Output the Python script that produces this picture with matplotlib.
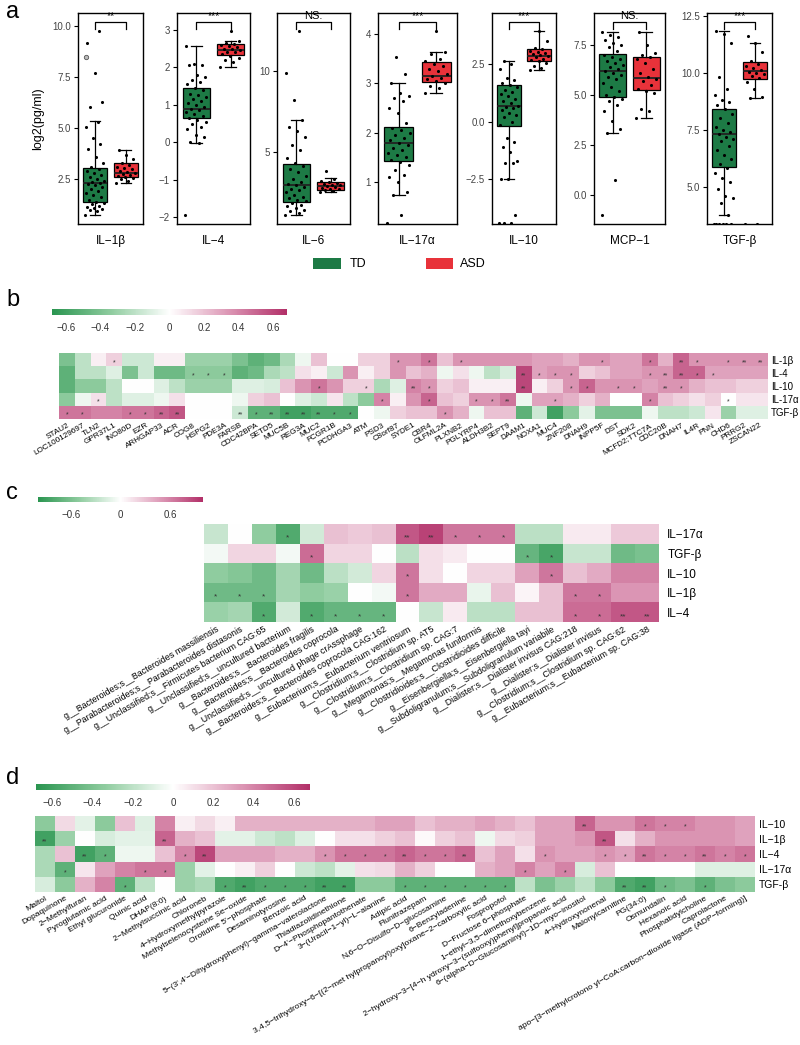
import numpy as np
import matplotlib
matplotlib.use('Agg')
import matplotlib.pyplot as plt
from matplotlib.colors import LinearSegmentedColormap, Normalize
from matplotlib.cm import ScalarMappable
from matplotlib.patches import Rectangle

plt.rcParams['font.family'] = ['Liberation Sans', 'DejaVu Sans']

W, H = 800, 1045

# ---------------- panel a data ----------------
cyto = ['IL\u22121β', 'IL\u22124', 'IL\u22126', 'IL\u221217α', 'IL\u221210', 'MCP\u22121', 'TGF-β']
sig = ['**', '***', 'NS.', '***', '***', 'NS.', '***']
ylims = [(0.3, 10.65), (-2.18, 3.45), (0.5, 13.6), (0.15, 4.43), (-4.46, 4.74), (-1.45, 9.1), (3.36, 12.62)]
yticks = [[2.5, 5.0, 7.5, 10.0], [-2, -1, 0, 1, 2, 3], [5, 10], [1, 2, 3, 4],
          [-2.5, 0.0, 2.5], [0.0, 2.5, 5.0, 7.5], [5.0, 7.5, 10.0, 12.5]]
ytick_fmt = ['{:.1f}', '{:.0f}', '{:.0f}', '{:.0f}', '{:.1f}', '{:.1f}', '{:.1f}']

# box stats: (whislo, q1, med, q3, whishi)
td_box = [(0.74, 1.39, 2.3, 3.04, 5.36), (-0.03, 0.64, 0.9, 1.44, 2.57), (1.07, 1.86, 2.93, 4.24, 6.97),
          (0.73, 1.42, 1.8, 2.12, 3.0), (-2.5, -0.17, 0.68, 1.6, 2.64), (3.08, 4.92, 6.2, 7.03, 8.13),
          (3.76, 5.84, 7.32, 8.39, 11.83)]
asd_box = [(2.3, 2.6, 2.8, 3.28, 3.95), (2.02, 2.33, 2.45, 2.62, 2.7), (2.5, 2.62, 2.86, 3.1, 3.35),
           (2.8, 3.04, 3.15, 3.44, 3.63), (2.25, 2.64, 2.86, 3.15, 3.95), (3.85, 5.25, 5.83, 6.88, 8.13),
           (8.88, 9.72, 10.09, 10.48, 11.3)]

td_pts = [
    [0.75, 0.95, 1.0, 1.05, 1.1, 1.15, 1.2, 1.3, 1.35, 1.4, 1.5, 1.6, 1.7, 1.8, 1.9, 2.0, 2.1, 2.2, 2.25, 2.3,
     2.35, 2.4, 2.5, 2.6, 2.7, 2.8, 2.9, 3.0, 3.1, 3.3, 3.6, 4.0, 4.2, 4.5, 5.05, 5.3, 6.05, 6.3, 7.7, 9.2, 9.75],
    [-1.95, -0.03, 0.0, 0.15, 0.2, 0.35, 0.4, 0.5, 0.55, 0.6, 0.65, 0.7, 0.75, 0.8, 0.85, 0.9, 0.95, 1.0,
     1.05, 1.1, 1.15, 1.2, 1.25, 1.3, 1.4, 1.45, 1.55, 1.6, 1.65, 1.75, 1.8, 2.05, 2.05, 2.1, 2.57],
    [1.07, 1.2, 1.3, 1.4, 1.5, 1.6, 1.7, 1.8, 1.9, 2.0, 2.1, 2.2, 2.3, 2.5, 2.6, 2.7, 2.8, 2.9, 3.0, 3.1,
     3.3, 3.5, 3.7, 3.9, 4.1, 4.3, 4.6, 5.1, 5.4, 5.9, 6.3, 6.5, 6.97, 8.2, 9.86, 12.5],
    [0.18, 0.33, 0.73, 0.8, 1.0, 1.1, 1.15, 1.25, 1.35, 1.4, 1.45, 1.5, 1.55, 1.6, 1.65, 1.7, 1.75, 1.8,
     1.85, 1.9, 1.95, 2.0, 2.05, 2.1, 2.2, 2.4, 2.5, 2.65, 2.7, 2.75, 2.8, 3.0, 3.2, 3.54],
    [-4.4, -4.4, -4.4, -4.07, -2.5, -2.5, -1.8, -1.8, -1.7, -1.3, -1.1, -0.9, -0.7, -0.15, 0.0, 0.2, 0.3,
     0.4, 0.5, 0.6, 0.65, 0.7, 0.8, 0.9, 1.0, 1.1, 1.2, 1.3, 1.4, 1.5, 1.6, 1.7, 1.8, 1.9, 2.3, 2.5, 2.64],
    [-1.0, 0.75, 3.08, 3.3, 3.7, 4.2, 4.5, 4.7, 4.8, 4.9, 5.0, 5.2, 5.4, 5.6, 5.8, 5.9, 6.0, 6.1, 6.2, 6.3,
     6.4, 6.5, 6.6, 6.7, 6.8, 6.9, 7.0, 7.2, 7.4, 7.5, 7.6, 7.75, 7.9, 8.0, 8.13],
    [3.38, 3.38, 3.38, 3.38, 3.38, 3.38, 3.76, 4.3, 4.5, 4.6, 4.9, 5.2, 5.4, 5.6, 5.8, 6.0, 6.2, 6.4, 6.6,
     6.8, 7.0, 7.1, 7.2, 7.3, 7.4, 7.5, 7.6, 7.8, 8.0, 8.2, 8.4, 8.6, 8.7, 8.8, 9.0, 9.3, 9.8, 11.3, 11.7, 11.83],
]
asd_pts = [
    [2.3, 2.4, 2.5, 2.55, 2.6, 2.65, 2.7, 2.75, 2.8, 2.85, 2.9, 3.0, 3.05, 3.1, 3.2, 3.3, 3.5, 3.7, 3.95],
    [2.02, 2.15, 2.2, 2.25, 2.3, 2.35, 2.4, 2.42, 2.45, 2.48, 2.5, 2.55, 2.58, 2.6, 2.62, 2.65, 2.7, 2.97],
    [2.5, 2.55, 2.6, 2.65, 2.7, 2.75, 2.8, 2.85, 2.9, 2.95, 3.0, 3.05, 3.1, 3.2, 3.3, 3.77],
    [2.8, 2.9, 2.95, 3.0, 3.05, 3.1, 3.12, 3.15, 3.2, 3.25, 3.3, 3.35, 3.4, 3.45, 3.5, 3.6, 3.63, 4.07],
    [2.25, 2.35, 2.45, 2.55, 2.65, 2.7, 2.75, 2.8, 2.85, 2.9, 2.95, 3.0, 3.05, 3.1, 3.15, 3.2, 3.5, 3.95],
    [3.85, 4.2, 4.3, 5.1, 5.2, 5.3, 5.5, 5.7, 5.8, 5.9, 6.1, 6.3, 6.6, 6.8, 6.9, 7.0, 7.1, 7.5, 8.13],
    [3.38, 3.38, 8.88, 8.95, 9.3, 9.6, 9.75, 9.85, 9.95, 10.0, 10.05, 10.1, 10.2, 10.3, 10.4, 10.5, 10.9, 11.3, 11.6],
]
il1b_outlier = 8.48

# ---------------- heatmap data ----------------
hm_rows_b = ['IL-1β', 'IL-4', 'IL-10', 'IL-17α', 'TGF-β']
genes = ['STAU2', 'LOC100129697', 'TLN2', 'GPR37L1', 'INO80D', 'EZR', 'ARHGAP33', 'ACR', 'COG8', 'HSPG2',
         'PDE3A', 'FARSB', 'CDC42BPA', 'SETD5', 'MUC5B', 'REG3A', 'MUC2', 'FCGR1B', 'PCDHGA3', 'ATM', 'PSD3',
         'C8orf87', 'SYDE1', 'CBR4', 'OLFML2A', 'PLXNB2', 'PGLYRP4', 'ALDH3B2', 'SEPT9', 'DAAM1', 'NOXA1',
         'MUC4', 'ZNF208', 'DNAH9', 'INPP5F', 'DST', 'SDK2', 'MCFD2;TTC7A', 'CDC20B', 'DNAH7', 'IL4R', 'PNN',
         'CHD6', 'PRRG2', 'ZSCAN22']
b_il1b = [-0.4, -0.2, 0.05, 0.15, -0.15, -0.15, 0.05, 0.05, -0.3, -0.3, -0.3, -0.4, -0.5, -0.45, -0.25, -0.05,
          0.2, 0, 0, 0.15, 0.15, 0.35, 0.35, 0.45, 0.2, 0.35, 0.35, 0.35, 0.35, 0.35, 0.3, 0.3, 0.25, 0.35, 0.35,
          0.3, 0.3, 0.45, 0.25, 0.5, 0.35, 0.35, 0.35, 0.35, 0.35]
b_il4 = [-0.5, -0.2, -0.2, -0.1, -0.4, -0.15, -0.45, -0.45, -0.35, -0.35, -0.35, -0.5, -0.45, -0.25, -0.2, 0.1,
         0.05, -0.15, 0.35, 0.05, 0.15, 0.35, 0.2, 0.25, -0.05, 0.1, -0.05, -0.2, -0.12, 0.6, 0.3, 0.35, 0.35,
         0.15, 0.2, 0.3, 0.3, 0.35, 0.35, 0.5, 0.5, 0.3, 0.3, 0.3, 0.3]
b_il10 = [-0.5, -0.35, -0.35, -0.2, 0, 0, -0.1, -0.2, -0.3, -0.3, -0.3, -0.1, -0.1, -0.12, 0.2, 0.35, 0.45, 0.35,
          0.15, 0.15, -0.25, -0.1, 0.4, 0.35, 0.15, 0.2, 0.05, 0.05, 0.05, 0.6, 0.05, 0.15, 0.35, 0.5, 0.35,
          0.35, 0.35, 0.3, 0.35, 0.35, 0.25, 0.2, 0.2, 0.15, 0.15]
b_il17 = [-0.35, -0.05, 0.1, -0.2, -0.1, -0.1, -0.05, 0.1, 0, 0, 0, -0.05, 0.15, 0.2, 0, -0.1, -0.15, 0.08, -0.2,
          -0.35, 0.4, 0.05, 0.35, 0.5, 0.2, 0.15, 0.35, 0.35, 0.45, -0.05, 0.3, 0.3, 0.25, 0.15, 0.25, 0, 0, 0.4,
          0.2, 0.15, 0.1, 0.15, 0, 0.08, 0.08]
b_tgfb = [0.45, 0.45, 0.4, 0.4, 0.45, 0.45, 0.5, 0.55, 0, 0, 0, -0.15, -0.5, -0.5, -0.6, -0.6, -0.55, -0.55, -0.55,
          0, -0.05, 0.15, 0.2, 0.2, 0.35, 0.25, -0.05, 0.2, 0.2, -0.5, -0.15, -0.6, -0.35, -0.08, -0.4, -0.4,
          -0.4, -0.05, -0.2, -0.2, -0.15, 0.08, -0.3, -0.1, -0.1]
b_stars = [
    [(3, '*'), (21, '*'), (23, '*'), (25, '*'), (34, '*'), (37, '*'), (39, '**'), (40, '*'), (42, '*'), (43, '**'), (44, '**')],
    [(8, '*'), (9, '*'), (10, '*'), (29, '**'), (30, '*'), (31, '*'), (32, '*'), (37, '*'), (38, '**'), (39, '**'), (40, '*'), (41, '*')],
    [(16, '*'), (19, '*'), (22, '**'), (23, '*'), (29, '**'), (32, '*'), (33, '*'), (35, '*'), (36, '*'), (38, '**'), (39, '*')],
    [(2, '*'), (20, '*'), (23, '*'), (26, '*'), (27, '*'), (28, '**'), (31, '*'), (37, '*'), (42, '*')],
    [(0, '*'), (1, '*'), (4, '*'), (5, '*'), (6, '**'), (7, '**'), (11, '**'), (12, '*'), (13, '**'), (14, '**'),
     (15, '**'), (16, '**'), (17, '*'), (18, '*'), (24, '*')],
]

hm_rows_c = ['IL\u221217α', 'TGF-β', 'IL\u221210', 'IL\u22121β', 'IL\u22124']
microbes = ['g__Bacteroides;s__Bacteroides massiliensis', 'g__Parabacteroides;s__Parabacteroides distasonis',
            'g__Unclassified;s__Firmicutes bacterium CAG:65', 'g__Unclassified;s__uncultured bacterium',
            'g__Bacteroides;s__Bacteroides fragilis', 'g__Bacteroides;s__Bacteroides coprocola',
            'g__Unclassified;s__uncultured phage crAssphage', 'g__Bacteroides;s__Bacteroides coprocola CAG:162',
            'g__Eubacterium;s__Eubacterium ventriosum', 'g__Clostridium;s__Clostridium sp. AT5',
            'g__Clostridium;s__Clostridium sp. CAG:7', 'g__Megamonas;s__Megamonas funiformis',
            'g__Clostridioides;s__Clostridioides difficile', 'g__Eisenbergiella;s__Eisenbergiella tayi',
            'g__Subdoligranulum;s__Subdoligranulum variabile', 'g__Dialister;s__Dialister invisus CAG:218',
            'g__Dialister;s__Dialister invisus', 'g__Clostridium;s__Clostridium sp. CAG:62',
            'g__Eubacterium;s__Eubacterium sp. CAG:38']
c_il17 = [-0.25, 0, -0.5, -0.8, -0.2, 0.3, 0.25, 0.3, 0.8, 0.9, 0.65, 0.65, 0.65, -0.3, -0.3, 0.1, 0.1, 0.25, 0.25]
c_tgfb = [-0.05, 0.2, 0.2, -0.05, 0.7, 0.2, 0.2, 0, -0.3, 0.15, 0.1, 0, 0, -0.7, -0.85, -0.25, -0.25, -0.65, -0.6]
c_il10 = [-0.5, -0.55, -0.65, -0.4, -0.65, -0.3, -0.2, 0.2, 0.65, 0.15, 0, 0.2, 0.2, 0.45, 0.65, 0.3, 0.4, 0.6, 0.6]
c_il1b = [-0.65, -0.65, -0.65, -0.4, -0.5, -0.45, 0, -0.05, 0.65, 0.4, 0.4, -0.1, 0.3, 0.05, 0.3, 0.65, 0.65, 0.5, 0.5]
c_il4 = [-0.45, -0.4, -0.8, -0.2, -0.8, -0.7, -0.7, -0.7, 0, -0.25, 0.1, -0.3, -0.3, 0.3, 0.3, 0.7, 0.7, 0.8, 0.8]
c_stars = [
    [(3, '*'), (8, '**'), (9, '**'), (10, '*'), (11, '*'), (12, '*')],
    [(4, '*'), (13, '*'), (14, '*')],
    [(8, '*'), (14, '*')],
    [(0, '*'), (1, '*'), (2, '*'), (8, '*'), (15, '*'), (16, '*')],
    [(2, '*'), (4, '*'), (5, '*'), (6, '*'), (7, '*'), (15, '*'), (16, '*'), (17, '**'), (18, '**')],
]

hm_rows_d = ['IL\u221210', 'IL\u22121β', 'IL\u22124', 'IL\u221217α', 'TGF-β']
metabolites = ['Maltol', 'Dopaquinone', '2\u2212Methylfuran', 'Pyroglutamic acid', 'Ethyl glucuronide',
               'Quinic acid', 'DHAP(8:0)', '2\u2212Methylsuccinic acid', 'Chloroneb',
               '4\u2212Hydroxymethylpyrazole', 'Methylselenocysteine Se\u2212oxide',
               "Orotidine 5'\u2212phosphate", 'Desaminotyrosine', 'Benzoic acid',
               "5\u2212(3',4'\u2212Dihydroxyphenyl)\u2212gamma\u2212valerolactone", 'Thiadiazolidinethione',
               "D\u22124'\u2212Phosphopantothenate", '3\u2212(Uracil\u22121\u2212yl)\u2212L\u2212alanine',
               'Adipic acid', 'Flunitrazepam', 'N,6\u2212O\u2212Disulfo\u2212D\u2212glucosamine', '6\u2212Benzyladenine',
               '3,4,5\u2212trihydroxy\u22126\u2212[(2\u2212met hylpropanoyl)oxy]oxane\u22122\u2212carboxylic acid',
               'Fospropofol', 'D\u2212Fructose 6\u2212phosphate', '1\u2212ethyl\u22123,5\u2212dimethoxybenzene',
               '2\u2212hydroxy\u22123\u2212[4\u2212h ydroxy\u22123\u2212(sulfooxy)phenyl]propanoic acid',
               '6\u2212(alpha\u2212D\u2212Glucosaminyl)\u22121D\u2212myo\u2212inositol', '4\u2212Hydroxynonenal',
               'Malonylcarnitine', 'PG(34:0)', 'Osmundalin', 'Hexanoic acid', 'Phosphatidylcholine', 'Caprolactone',
               'apo\u2212[3\u2212methylcrotono yl\u2212CoA:carbon\u2212dioxide ligase (ADP\u2212forming)]']
d_il10 = [-0.35, 0.12, -0.08, -0.35, 0.2, -0.1, 0.4, 0.05, 0.12, 0.05, 0.25, 0.25, 0.25, 0.25, 0.25, 0.25,
          0.25, 0.3, 0.3, 0.2, 0.25, 0.25, 0.3, 0.25, 0.2, 0.3, 0.3, 0.5, 0.35, 0.35, 0.45, 0.4, 0.4, 0.35, 0.35, 0.3]
d_il1b = [-0.6, -0.3, 0, -0.12, -0.08, -0.08, 0.5, 0.25, 0.2, -0.08, -0.08, -0.15, -0.2, -0.1, 0, 0.1, 0.1,
          0.15, 0.2, 0.02, 0.15, 0.2, -0.05, 0.12, 0.15, 0.3, 0.3, 0.35, 0.55, 0.1, 0.25, 0.35, 0.35, 0.35, 0.35, 0.3]
d_il4 = [-0.25, 0.2, -0.6, -0.5, -0.05, -0.05, 0.2, 0.4, 0.6, 0.3, 0.3, 0.3, 0.25, 0.25, 0.35, 0.45, 0.45, 0.45,
         0.5, 0.45, 0.45, 0.5, 0.2, 0.3, 0.1, 0.35, 0.3, 0.3, 0.35, 0.3, 0.45, 0.4, 0.4, 0.45, 0.4, 0.45]
d_il17 = [-0.25, -0.5, 0.08, 0.3, 0.4, 0.45, 0.45, -0.3, -0.08, 0, 0.05, 0.15, 0, -0.15, -0.2, -0.08, 0.1, 0.12,
          0.25, 0.15, 0, 0, 0.25, 0.3, 0.4, 0.3, 0.4, -0.12, 0.2, 0, 0, 0, 0, -0.1, -0.1, -0.1]
d_tgfb = [-0.12, -0.35, 0.25, 0.4, -0.5, -0.2, 0, -0.3, -0.25, -0.55, -0.6, -0.55, -0.55, -0.55, -0.6, -0.6,
          -0.35, -0.35, -0.5, -0.5, -0.5, -0.5, -0.5, -0.5, -0.2, -0.4, -0.3, -0.2, -0.35, -0.55, -0.6, -0.45,
          -0.4, -0.5, -0.4, -0.35]
d_stars = [
    [(27, '**'), (30, '*'), (31, '*'), (32, '*')],
    [(0, '**'), (6, '**'), (28, '**')],
    [(2, '**'), (3, '*'), (7, '*'), (8, '**'), (14, '*'), (15, '*'), (16, '*'), (17, '*'), (18, '**'), (19, '*'),
     (20, '*'), (21, '**'), (25, '*'), (28, '*'), (29, '*'), (30, '**'), (31, '*'), (32, '*'), (33, '**'),
     (34, '*'), (35, '*')],
    [(1, '*'), (5, '*'), (6, '*'), (24, '*'), (26, '*')],
    [(4, '*'), (9, '*'), (10, '**'), (11, '*'), (12, '*'), (13, '*'), (14, '**'), (15, '**'), (18, '*'), (19, '*'),
     (20, '*'), (21, '*'), (22, '*'), (23, '*'), (29, '**'), (30, '**'), (31, '*'), (33, '*')],
]

TD_COL = '#1d7a45'
ASD_COL = '#e8323a'
cmap = LinearSegmentedColormap.from_list('gwp', ['#2a9550', '#8fcc9f', '#ffffff', '#dc97b5', '#b22f68'])


def rect(l, t, r, b):
    return [l / W, 1 - b / H, (r - l) / W, (b - t) / H]


def jitter(n):
    return np.array([((i * 0.618034) % 1 - 0.5) * 0.62 for i in range(n)])


fig = plt.figure(figsize=(W / 100, H / 100), dpi=100)

# ---------------- panel a ----------------
xs = [(78, 143), (177, 250), (277, 350), (378, 457), (492, 556), (594, 665), (707, 772)]
for k, (l, r) in enumerate(xs):
    ax = fig.add_axes(rect(l, 13, r, 224))
    stats = []
    for b in (td_box[k], asd_box[k]):
        stats.append(dict(whislo=b[0], q1=b[1], med=b[2], q3=b[3], whishi=b[4], fliers=[]))
    bp = ax.bxp(stats, positions=[1, 2], widths=0.78, capwidths=0.32, patch_artist=True,
                boxprops=dict(linewidth=0.9, edgecolor='black'),
                whiskerprops=dict(linewidth=0.9), capprops=dict(linewidth=0.9),
                medianprops=dict(color='#222222', linewidth=1.3))
    bp['boxes'][0].set_facecolor(TD_COL)
    bp['boxes'][1].set_facecolor(ASD_COL)
    t = np.array(td_pts[k])
    a = np.array(asd_pts[k])
    ax.scatter(1 + jitter(len(t)), t, s=5, color='black', zorder=4, linewidths=0)
    ax.scatter(2 + jitter(len(a)), a, s=5, color='black', zorder=4, linewidths=0)
    if k == 0:
        ax.scatter([0.7], [il1b_outlier], s=10, facecolors='#bbbbbb', edgecolors='#555555', linewidths=0.6, zorder=4)
    ax.set_xlim(0.45, 2.55)
    ax.set_ylim(*ylims[k])
    ax.set_yticks(yticks[k])
    ax.set_yticklabels([ytick_fmt[k].format(v).replace('-', '\u2212') for v in yticks[k]])
    ax.tick_params(axis='y', labelsize=7, colors='black', labelcolor='#444444', length=3, width=0.8, pad=2)
    ax.set_xticks([])
    ax.set_xlabel(cyto[k], fontsize=8.5, labelpad=8)
    for s in ax.spines.values():
        s.set_linewidth(1.0)
    # significance bracket
    ax.plot([1, 1, 2, 2], [0.925, 0.955, 0.955, 0.925], transform=ax.get_xaxis_transform(),
            color='black', lw=0.9, clip_on=False)
    ax.text(1.5, 0.962, sig[k], transform=ax.get_xaxis_transform(), ha='center', va='bottom',
            fontsize=7.5 if sig[k] != 'NS.' else 8)
    if k == 0:
        ax.set_ylabel('log2(pg/ml)', fontsize=9, labelpad=6)

# legend
fig.add_artist(Rectangle((313 / W, 1 - 269 / H), 28 / W, 11 / H, transform=fig.transFigure,
                         facecolor=TD_COL, edgecolor='none'))
fig.text(350 / W, 1 - 264 / H, 'TD', fontsize=9, va='center')
fig.add_artist(Rectangle((426 / W, 1 - 269 / H), 27 / W, 11 / H, transform=fig.transFigure,
                         facecolor=ASD_COL, edgecolor='none'))
fig.text(460 / W, 1 - 264 / H, 'ASD', fontsize=9, va='center')


def heatmap(box, vals, stars, cols, rows, vlim, rot, col_fs, row_fs, star_fs, row_pad):
    ax = fig.add_axes(rect(*box))
    ax.imshow(np.array(vals), cmap=cmap, vmin=-vlim, vmax=vlim, aspect='auto', interpolation='nearest')
    for i, row in enumerate(stars):
        for j, s in row:
            ax.text(j, i + 0.22, s, ha='center', va='center', fontsize=star_fs, color='#333333')
    ax.set_xticks(np.arange(len(cols)))
    ax.set_xticklabels(cols, rotation=rot, ha='right', rotation_mode='anchor', fontsize=col_fs)
    ax.yaxis.tick_right()
    ax.set_yticks(np.arange(len(rows)))
    ax.set_yticklabels(rows, fontsize=row_fs)
    ax.tick_params(length=0, pad=2)
    ax.tick_params(axis='y', pad=row_pad)
    for s in ax.spines.values():
        s.set_visible(False)
    return ax


def colorbar(box, vlim, ticks, labels):
    cax = fig.add_axes(rect(*box))
    cb = fig.colorbar(ScalarMappable(norm=Normalize(-vlim, vlim), cmap=cmap), cax=cax, orientation='horizontal')
    cb.outline.set_visible(False)
    cb.set_ticks(ticks)
    cb.set_ticklabels(labels)
    cax.tick_params(length=0, labelsize=7, pad=6, colors='#333333')


# ---------------- panel b ----------------
colorbar((52, 309, 287, 315), 0.68, [-0.6, -0.4, -0.2, 0, 0.2, 0.4, 0.6],
         ['\u22120.6', '\u22120.4', '\u22120.2', '0', '0.2', '0.4', '0.6'])
heatmap((59, 353, 768, 419), [b_il1b, b_il4, b_il10, b_il17, b_tgfb], b_stars, genes, hm_rows_b,
        0.68, 30, 5.9, 7, 5, 2)

# ---------------- panel c ----------------
colorbar((38, 497, 203, 502), 1.0, [-0.6, 0, 0.6], ['\u22120.6', '0', '0.6'])
heatmap((204, 524, 659, 622), [c_il17, c_tgfb, c_il10, c_il1b, c_il4], c_stars, microbes, hm_rows_c,
        1.0, 30, 6.4, 8.5, 6, 6)

# ---------------- panel d ----------------
colorbar((36, 784, 310, 790), 0.68, [-0.6, -0.4, -0.2, 0, 0.2, 0.4, 0.6],
         ['\u22120.6', '\u22120.4', '\u22120.2', '0', '0.2', '0.4', '0.6'])
heatmap((35, 816, 755, 892), [d_il10, d_il1b, d_il4, d_il17, d_tgfb], d_stars, metabolites, hm_rows_d,
        0.68, 30, 6.1, 7.5, 5, 3)

# panel letters
for letter, y in [('a', 12), ('b', 300), ('c', 493), ('d', 778)]:
    fig.text(6 / W, 1 - y / H, letter, fontsize=17, va='center', ha='left')

fig.savefig('out.png', dpi=100)
